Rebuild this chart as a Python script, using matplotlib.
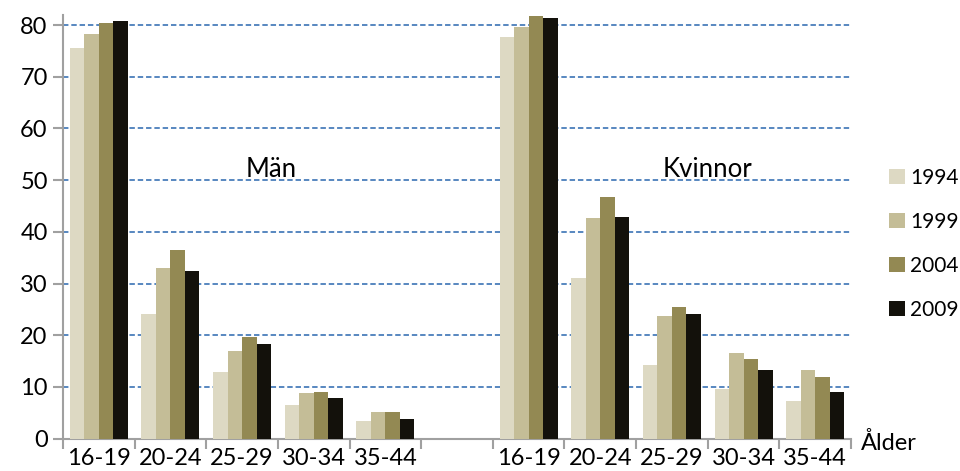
import matplotlib
matplotlib.use("Agg")
import matplotlib.pyplot as plt
import numpy as np

plt.rcParams['font.family'] = ['Lato', 'DejaVu Sans']

# age groups (men, gap, women)
ages = ["16-19", "20-24", "25-29", "30-34", "35-44"]
years = ["1994", "1999", "2004", "2009"]
colors = ["#ddd9c3", "#c4bd97", "#938953", "#13110b"]

men = {
    "1994": [75.6, 24.2, 12.9, 6.5, 3.4],
    "1999": [78.2, 33.0, 16.9, 8.8, 5.2],
    "2004": [80.3, 36.5, 19.7, 9.1, 5.1],
    "2009": [80.8, 32.5, 18.4, 7.9, 3.9],
}
women = {
    "1994": [77.6, 31.0, 14.2, 9.7, 7.3],
    "1999": [79.7, 42.6, 23.8, 16.5, 13.2],
    "2004": [81.7, 46.8, 25.4, 15.5, 11.9],
    "2009": [81.3, 42.8, 24.2, 13.2, 9.1],
}

fig = plt.figure(figsize=(9.6, 4.71), dpi=100)
ax = fig.add_axes([63/960, 1 - 438.7/471, (851 - 63)/960, (438.7 - 14.7)/471])

x_men = np.arange(5)
x_women = np.arange(6, 11)
w = 0.2025
for i, yr in enumerate(years):
    off = (i - 1.5) * w
    ax.bar(x_men + off, men[yr], w, color=colors[i], zorder=3, label=yr)
    ax.bar(x_women + off, women[yr], w, color=colors[i], zorder=3)

ax.set_xlim(-0.5, 10.5)
ax.set_ylim(0, 82)
ax.set_yticks(range(0, 81, 10))
ax.yaxis.grid(True, linestyle=(0, (3, 1.6)), color="#4a7ebb", linewidth=1.3, zorder=0)
ax.set_axisbelow(True)

ax.set_xticks(list(x_men) + list(x_women))
ax.set_xticklabels(ages + ages)
ax.set_xticks(np.arange(-0.5, 11, 1), minor=True)
ax.tick_params(axis="x", which="major", length=0, pad=7, labelsize=17)
ax.tick_params(axis="x", which="minor", length=7, color="#a0a0a0", width=1.5)
ax.tick_params(axis="y", length=7, color="#a0a0a0", width=1.5, labelsize=17, pad=4)

for s in ["top", "right"]:
    ax.spines[s].set_visible(False)
for s in ["left", "bottom"]:
    ax.spines[s].set_color("#a0a0a0")
    ax.spines[s].set_linewidth(1.5)

ax.text(2.4, 52, "Män", fontsize=18.5, ha="center", va="center")
ax.text(8.5, 52, "Kvinnor", fontsize=18.5, ha="center", va="center")
fig.text(861/960, 1 - 443/471, "Ålder", fontsize=17, ha="left", va="center")

fig.legend(loc="center left", bbox_to_anchor=(889/960, 1 - 244/471), frameon=False,
           fontsize=15, handlelength=0.75, handleheight=0.75, labelspacing=1.15,
           handletextpad=0.25, borderpad=0, borderaxespad=0)

fig.savefig("out.png", dpi=100)
